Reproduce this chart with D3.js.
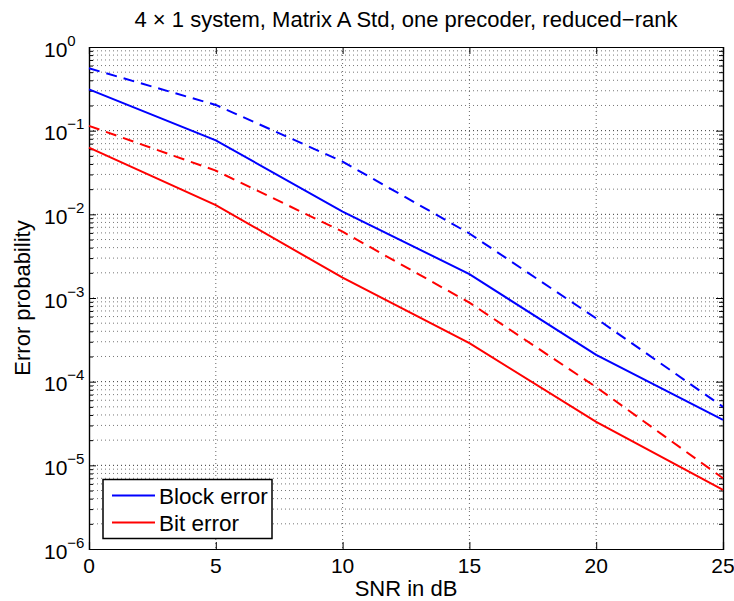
<!DOCTYPE html>
<html>
<head>
<meta charset="utf-8">
<script src="https://cdn.jsdelivr.net/npm/d3@7"></script>
<style>
  body { margin: 0; background: #fff; }
  svg { display: block; font-family: "Liberation Sans", Arial, sans-serif; }
</style>
</head>
<body>
<div id="chart"></div>
<script>
// SNR points (dB)
var snr = [0, 5, 10, 15, 20, 25];

// error probabilities
var blockSolid  = [0.312, 0.0765, 0.0108, 0.00193, 2.09e-4, 3.5e-5];
var blockDashed = [0.556, 0.203, 0.0427, 0.0059, 5.7e-4, 5.0e-5];
var bitSolid    = [0.0627, 0.0129, 0.00175, 2.88e-4, 3.3e-5, 5.1e-6];
var bitDashed   = [0.114, 0.0333, 0.0062, 8.8e-4, 8.6e-5, 7.0e-6];

var xTicks = [0, 5, 10, 15, 20, 25];
var yExponents = [0, -1, -2, -3, -4, -5, -6];
var legendLabels = ["Block error", "Bit error"];

var width = 734, height = 601;
// plot box edges (note: "top" is taken by window.top)
var pLeft = 89, pRight = 723, pTop = 47, pBottom = 549;

var x = d3.scaleLinear().domain([0, 25]).range([pLeft, pRight]);
var y = d3.scaleLog().domain([1e-6, 1]).range([pBottom, pTop]);

var svg = d3.select("#chart").append("svg")
  .attr("width", width)
  .attr("height", height);

// minor y values: 2..9 in every decade
var yMinor = [];
yExponents.slice(1).forEach(function(e) {
  for (var m = 2; m <= 9; m++) yMinor.push(m * Math.pow(10, e));
});
var yMajor = yExponents.map(function(e) { return Math.pow(10, e); });

// grid
var grid = svg.append("g").attr("id", "grid");
grid.selectAll(".hminor").data(yMinor).enter().append("line")
  .attr("x1", pLeft).attr("x2", pRight)
  .attr("y1", function(d) { return y(d); })
  .attr("y2", function(d) { return y(d); })
  .style("stroke", "#777").style("stroke-width", 1)
  .style("stroke-dasharray", "1,3");
grid.selectAll(".hmajor").data(yMajor.slice(1, -1)).enter().append("line")
  .attr("x1", pLeft).attr("x2", pRight)
  .attr("y1", function(d) { return y(d); })
  .attr("y2", function(d) { return y(d); })
  .style("stroke", "#333").style("stroke-width", 1)
  .style("stroke-dasharray", "1,3");
grid.selectAll(".vmajor").data(xTicks.slice(1, -1)).enter().append("line")
  .attr("x1", function(d) { return x(d); })
  .attr("x2", function(d) { return x(d); })
  .attr("y1", pTop).attr("y2", pBottom)
  .style("stroke", "#666").style("stroke-width", 1)
  .style("stroke-dasharray", "1,3");

// axes with inward ticks, box on
var axes = [
  [d3.axisBottom(x).tickValues(xTicks).tickSize(-7), "translate(0," + pBottom + ")"],
  [d3.axisTop(x).tickValues(xTicks).tickSize(-7), "translate(0," + pTop + ")"],
  [d3.axisLeft(y).tickValues(yMinor).tickSize(-4), "translate(" + pLeft + ",0)"],
  [d3.axisRight(y).tickValues(yMinor).tickSize(-4), "translate(" + pRight + ",0)"],
  [d3.axisLeft(y).tickValues(yMajor).tickSize(-7), "translate(" + pLeft + ",0)"],
  [d3.axisRight(y).tickValues(yMajor).tickSize(-7), "translate(" + pRight + ",0)"]
];
axes.forEach(function(a) {
  var g = svg.append("g").attr("transform", a[1]).call(a[0].tickFormat(""));
  g.selectAll("path").style("stroke", "#000").style("stroke-width", 1.2);
  g.selectAll("line").style("stroke", "#000").style("stroke-width", 1);
});

// tick labels
svg.append("g").selectAll("text").data(xTicks).enter().append("text")
  .attr("x", function(d) { return x(d); })
  .attr("y", pBottom + 24)
  .attr("text-anchor", "middle")
  .style("font-size", "21px")
  .text(function(d) { return d; });

var yLab = svg.append("g").selectAll("text").data(yExponents).enter().append("text")
  .attr("x", 44)
  .attr("y", function(d) { return y(Math.pow(10, d)) + 9.5; })
  .style("font-size", "21px");
yLab.append("tspan").text("10");
yLab.append("tspan")
  .attr("dy", -11)
  .style("font-size", "15px")
  .text(function(d) { return d === 0 ? "0" : "\u2212" + (-d); });

// series
var line = d3.line()
  .x(function(d, i) { return x(snr[i]); })
  .y(function(d) { return y(d); });

var series = [
  { values: blockDashed, color: "#0000ff", dash: "11,7" },
  { values: bitDashed, color: "#ff0000", dash: "11,7" },
  { values: blockSolid, color: "#0000ff", dash: null },
  { values: bitSolid, color: "#ff0000", dash: null }
];
svg.append("g").selectAll("path").data(series).enter().append("path")
  .attr("d", function(d) { return line(d.values); })
  .style("fill", "none")
  .style("stroke", function(d) { return d.color; })
  .style("stroke-width", 2)
  .style("stroke-dasharray", function(d) { return d.dash; });

// title and axis labels
svg.append("text")
  .attr("x", (pLeft + pRight) / 2).attr("y", 27)
  .attr("text-anchor", "middle")
  .style("font-size", "22px")
  .text("4 \u00d7 1 system, Matrix A Std, one precoder, reduced\u2212rank");

svg.append("text")
  .attr("x", (pLeft + pRight) / 2).attr("y", 596)
  .attr("text-anchor", "middle")
  .style("font-size", "22px")
  .text("SNR in dB");

svg.append("text")
  .attr("transform", "translate(30," + (pTop + pBottom) / 2 + ") rotate(-90)")
  .attr("text-anchor", "middle")
  .style("font-size", "22px")
  .text("Error probability");

// legend
var legend = svg.append("g");
legend.append("rect")
  .attr("x", 103).attr("y", 479.5)
  .attr("width", 169).attr("height", 59)
  .style("fill", "#fff").style("stroke", "#000").style("stroke-width", 1.5);
var colors = ["#0000ff", "#ff0000"];
legendLabels.forEach(function(lab, i) {
  var ly = 495.5 + i * 27;
  legend.append("line")
    .attr("x1", 112).attr("x2", 155)
    .attr("y1", ly).attr("y2", ly)
    .style("stroke", colors[i]).style("stroke-width", 2);
  legend.append("text")
    .attr("x", 159).attr("y", ly + 8)
    .style("font-size", "22.5px")
    .text(lab);
});
</script>
</body>
</html>
